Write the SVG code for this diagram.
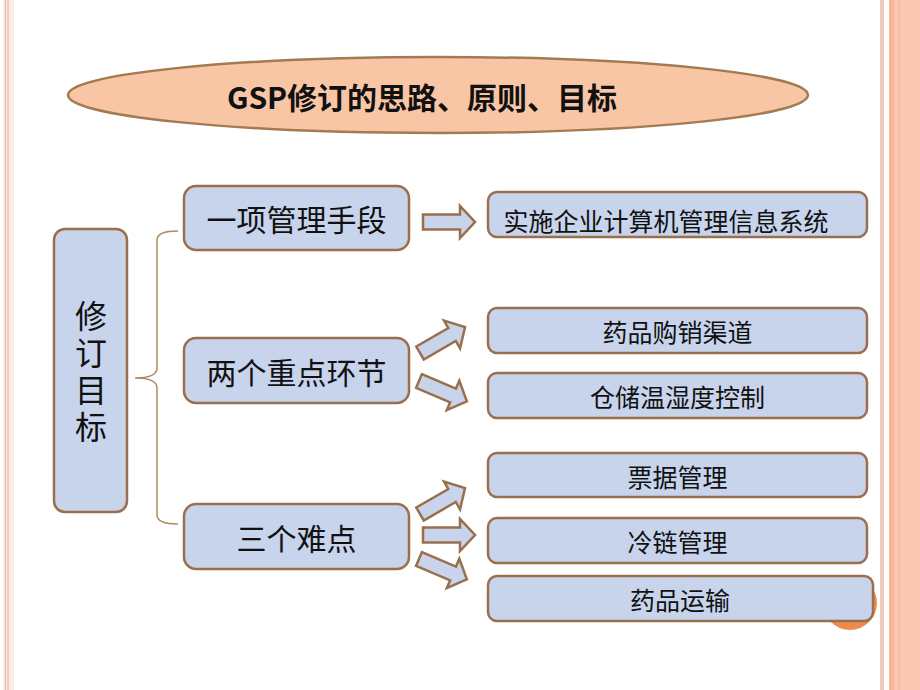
<svg xmlns="http://www.w3.org/2000/svg" xmlns:xlink="http://www.w3.org/1999/xlink" width="920" height="690" viewBox="0 0 920 690">
<style>
.box{fill:#c7d4ec;stroke:#9a6f4c;stroke-width:2.5}
.t{font-family:"Noto Sans CJK SC","Liberation Sans",sans-serif;fill:#111;text-anchor:middle;dominant-baseline:central}
.arr{fill:#c7d4ec;stroke:#9a6f4c;stroke-width:2.5;stroke-linejoin:miter}
.brace{fill:none;stroke:#b08a5e;stroke-width:1.5}
</style>
<defs>
<polygon id="ar" class="arr" points="0,-7.5 37,-7.5 37,-16 52,0 37,16 37,7.5 0,7.5"/>
</defs>
<rect width="920" height="690" fill="#ffffff"/>
<!-- page decoration -->
<g id="frame">
<rect x="3" y="0" width="11" height="690" fill="#fdece3"/>
<line x1="5.5" y1="0" x2="5.5" y2="690" stroke="#e6bcae" stroke-width="1.2"/>
<line x1="8" y1="0" x2="8" y2="690" stroke="#e6bcae" stroke-width="1.2"/>
<rect x="880" y="0" width="4" height="690" fill="#efc9ba"/>
<rect x="889" y="0" width="31" height="690" fill="#fbc7b0"/>
<rect x="889" y="0" width="5" height="690" fill="#f6b695"/>
<rect x="898" y="0" width="2" height="690" fill="#f8bca0"/>
<circle cx="850" cy="603" r="27" fill="#ef8a4a"/>
</g>
<g id="title">
<ellipse cx="438" cy="95" rx="370" ry="38" fill="#f9c6a5" stroke="#a27b52" stroke-width="2.5"/>
<text class="t" x="422" y="96" font-size="30" font-weight="bold">GSP修订的思路、原则、目标</text>
</g>
<g id="connectors">
<path class="brace" d="M178,231 Q157,231 157,240 L157,368 Q157,378 135,378 Q157,378 157,388 L157,515 Q157,524 178,524"/>
<use xlink:href="#ar" href="#ar" transform="translate(423,222)"/>
<use xlink:href="#ar" href="#ar" transform="translate(420,353) rotate(-30)"/>
<use xlink:href="#ar" href="#ar" transform="translate(419,381) rotate(23)"/>
<use xlink:href="#ar" href="#ar" transform="translate(420,514) rotate(-30)"/>
<use xlink:href="#ar" href="#ar" transform="translate(423,535)"/>
<use xlink:href="#ar" href="#ar" transform="translate(419,559) rotate(23)"/>
</g>
<g id="root">
<rect class="box" x="54" y="229" width="73" height="283" rx="11"/>
<text x="91" y="373.5" font-size="32" writing-mode="vertical-rl" letter-spacing="5" style="font-family:'Noto Sans CJK SC','Liberation Sans',sans-serif;fill:#111;text-anchor:middle">修订目标</text>
</g>
<g id="m1">
<rect class="box" x="184" y="186" width="225" height="64" rx="12"/>
<text class="t" x="296.5" y="218" font-size="30">一项管理手段</text>
</g>
<g id="m2">
<rect class="box" x="184" y="338" width="225" height="65" rx="12"/>
<text class="t" x="296.5" y="371" font-size="30">两个重点环节</text>
</g>
<g id="m3">
<rect class="box" x="184" y="504" width="225" height="65" rx="12"/>
<text class="t" x="296.5" y="537" font-size="30">三个难点</text>
</g>
<g id="r1">
<rect class="box" x="488" y="192" width="379" height="45" rx="9"/>
<text class="t" x="666" y="220" font-size="25">实施企业计算机管理信息系统</text>
</g>
<g id="r2">
<rect class="box" x="488" y="308" width="379" height="45" rx="9"/>
<text class="t" x="677.5" y="331" font-size="25">药品购销渠道</text>
</g>
<g id="r3">
<rect class="box" x="488" y="373" width="379" height="45" rx="9"/>
<text class="t" x="677.5" y="396" font-size="25">仓储温湿度控制</text>
</g>
<g id="r4">
<rect class="box" x="488" y="453" width="379" height="44" rx="9"/>
<text class="t" x="677.5" y="476" font-size="25">票据管理</text>
</g>
<g id="r5">
<rect class="box" x="488" y="518" width="379" height="45" rx="9"/>
<text class="t" x="677.5" y="541" font-size="25">冷链管理</text>
</g>
<g id="r6">
<rect class="box" x="488" y="576" width="385" height="45" rx="9"/>
<text class="t" x="680" y="599" font-size="25">药品运输</text>
</g>
</svg>
